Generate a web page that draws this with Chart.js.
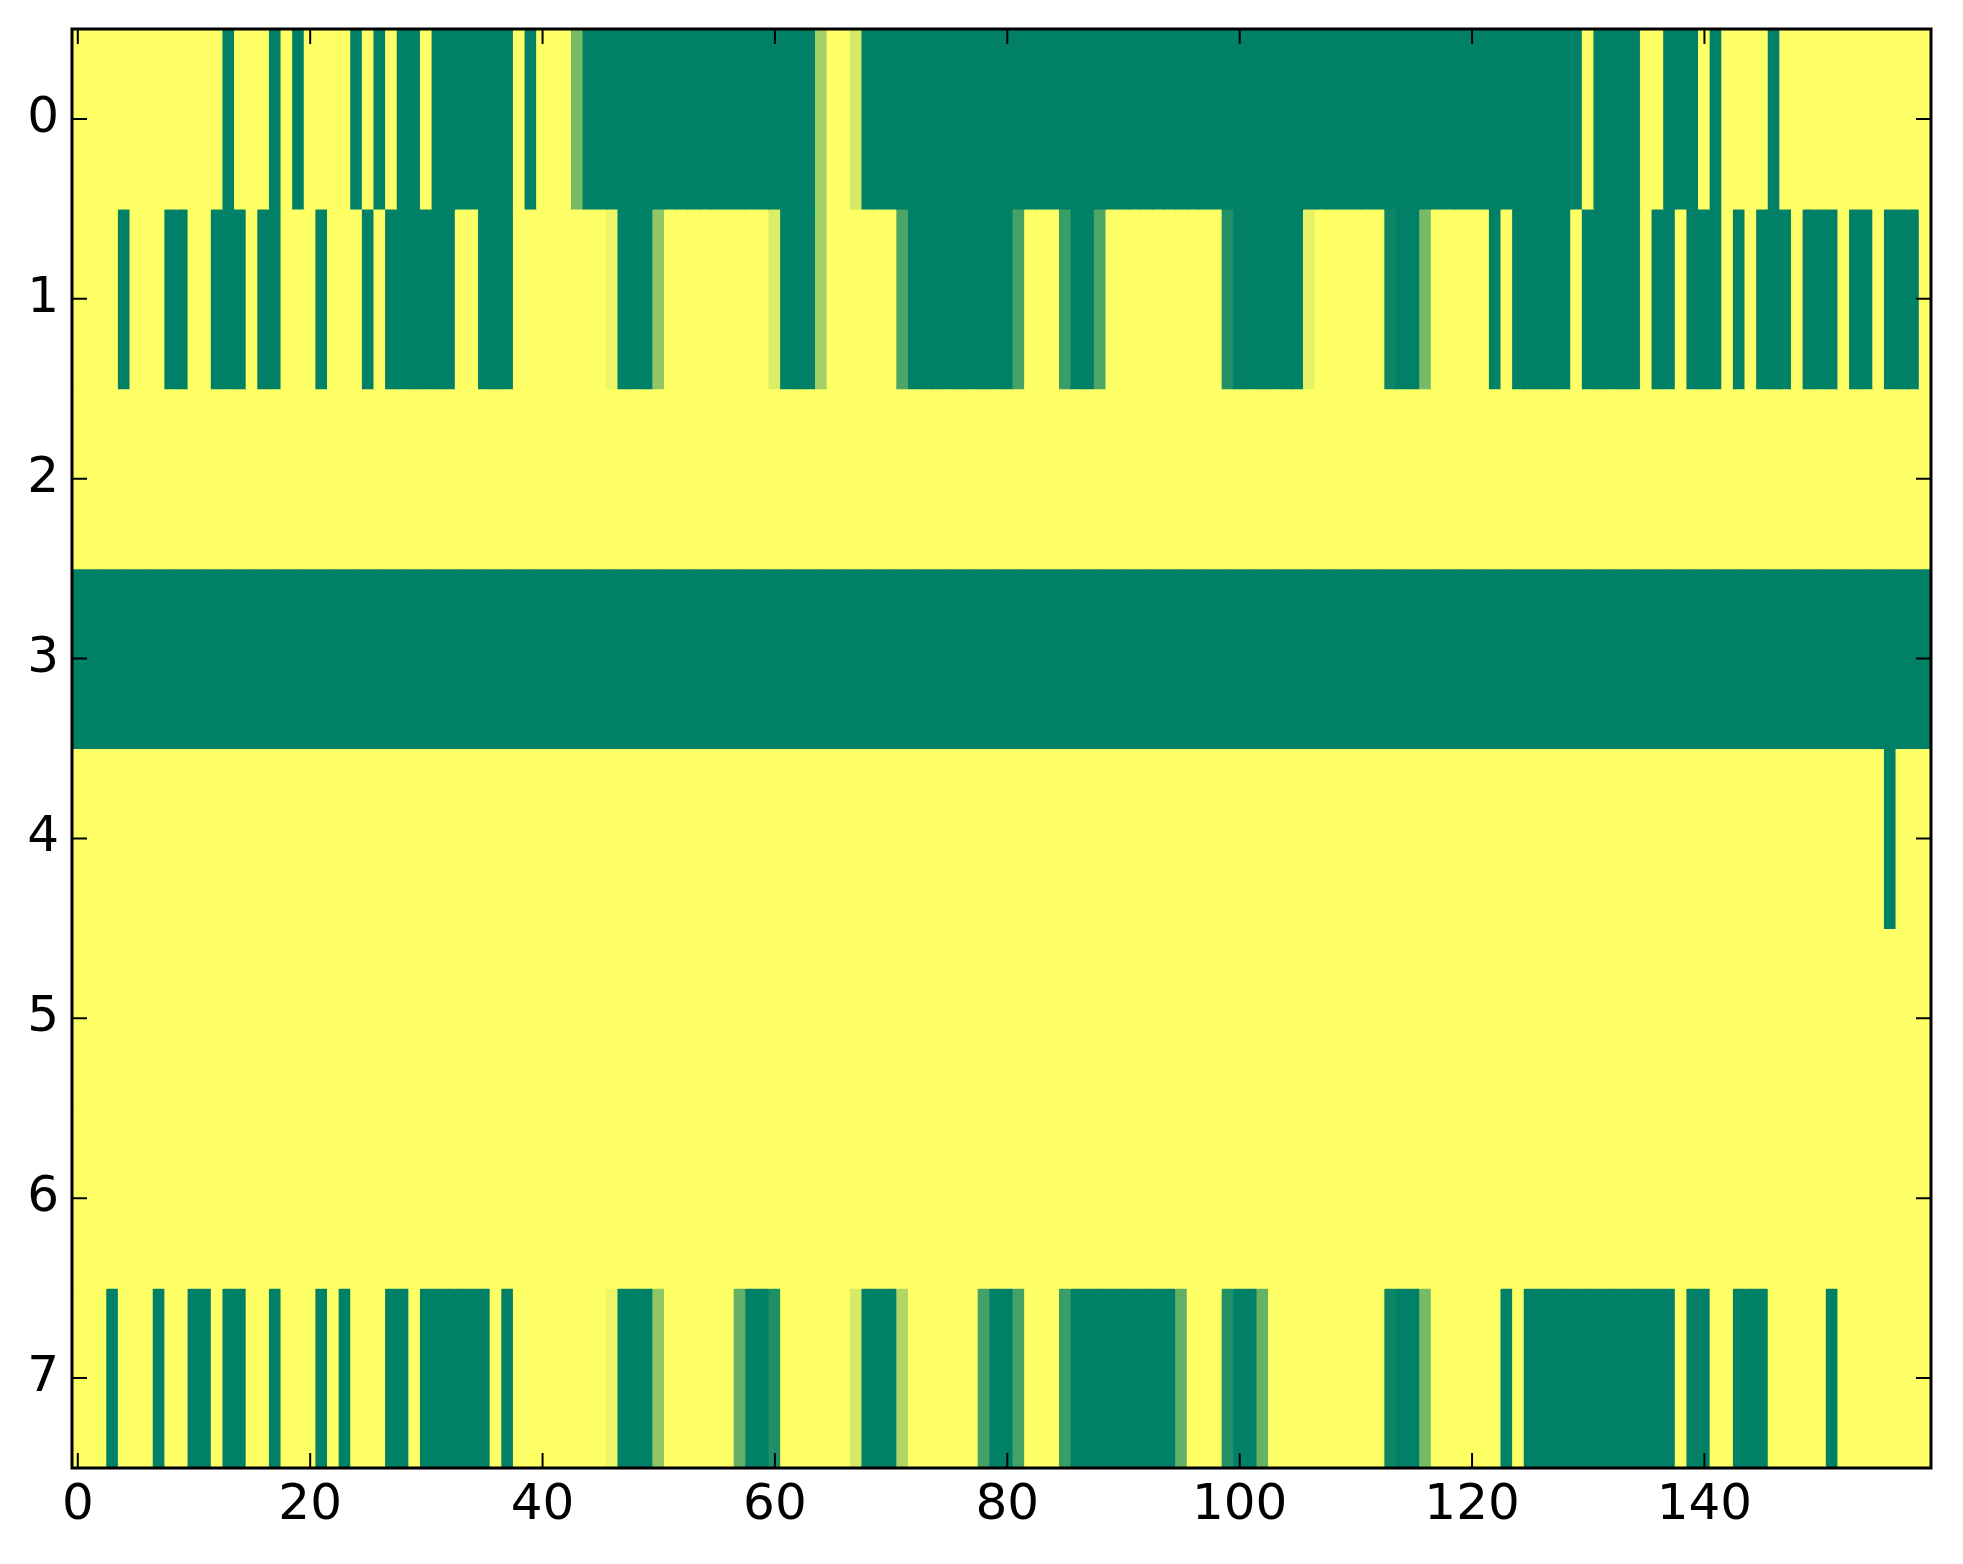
<!DOCTYPE html>
<html>
<head>
<meta charset="utf-8">
<script src="https://cdn.jsdelivr.net/npm/chart.js@4/dist/chart.umd.min.js"></script>
<style>
  body { margin: 0; background: #fff; }
  #myChart { display: block; }
</style>
</head>
<body>
<canvas id="myChart" width="1963" height="1564"></canvas>
<script>
// one array per image row, 160 cells each (0 = green end, 1 = yellow end of "summer")
let row0 = [
  1,1,1,1,1,1,1,1,1,1, 1,1,1,0,1,1,1,0,1,0,
  1,1,1,1,0,1,0,1,0,0, 1,0,0,0,0,0,0,0,1,0,
  1,1,1,0.47,0,0,0,0,0,0, 0,0,0,0,0,0,0,0,0,0,
  0,0,0,0,0.64,1,1,0.83,0,0, 0,0,0,0,0,0,0,0,0,0,
  0,0,0,0,0,0,0,0,0,0, 0,0,0,0,0,0,0,0,0,0,
  0,0,0,0,0,0,0,0,0,0, 0,0,0,0,0,0,0,0,0,0,
  0,0,0,0,0,0,0,0,0,0, 1,0,0,0,0,1,1,0,0,0,
  1,0,1,1,1,1,0,1,1,1, 1,1,1,1,1,1,1,1,1,1
];
let row1 = [
  1,1,1,1,0,1,1,1,0,0, 1,1,0,0,0,1,0,0,1,1,
  1,0,1,1,1,0,1,0,0,0, 0,0,0,1,1,0,0,0,1,1,
  1,1,1,1,1,1,0.93,0,0,0, 0.56,1,1,1,1,1,1,1,1,1,
  0.86,0,0,0,0.64,1,1,1,1,1, 1,0.3,0,0,0,0,0,0,0,0,
  0,0.27,1,1,1,0.23,0,0,0.3,1, 1,1,1,1,1,1,1,1,1,0.13,
  0,0,0,0,0,0,0.9,1,1,1, 1,1,1,0.05,0,0,0.47,1,1,1,
  1,1,0,1,0,0,0,0,0,1, 0,0,0,0,0,1,0,0,1,0,
  0,0,1,0,1,0,0,0,1,0, 0,0,1,0,0,1,0,0,0,1
];
let row2 = [
  1,1,1,1,1,1,1,1,1,1, 1,1,1,1,1,1,1,1,1,1,
  1,1,1,1,1,1,1,1,1,1, 1,1,1,1,1,1,1,1,1,1,
  1,1,1,1,1,1,1,1,1,1, 1,1,1,1,1,1,1,1,1,1,
  1,1,1,1,1,1,1,1,1,1, 1,1,1,1,1,1,1,1,1,1,
  1,1,1,1,1,1,1,1,1,1, 1,1,1,1,1,1,1,1,1,1,
  1,1,1,1,1,1,1,1,1,1, 1,1,1,1,1,1,1,1,1,1,
  1,1,1,1,1,1,1,1,1,1, 1,1,1,1,1,1,1,1,1,1,
  1,1,1,1,1,1,1,1,1,1, 1,1,1,1,1,1,1,1,1,1
];
let row3 = [
  0,0,0,0,0,0,0,0,0,0, 0,0,0,0,0,0,0,0,0,0,
  0,0,0,0,0,0,0,0,0,0, 0,0,0,0,0,0,0,0,0,0,
  0,0,0,0,0,0,0,0,0,0, 0,0,0,0,0,0,0,0,0,0,
  0,0,0,0,0,0,0,0,0,0, 0,0,0,0,0,0,0,0,0,0,
  0,0,0,0,0,0,0,0,0,0, 0,0,0,0,0,0,0,0,0,0,
  0,0,0,0,0,0,0,0,0,0, 0,0,0,0,0,0,0,0,0,0,
  0,0,0,0,0,0,0,0,0,0, 0,0,0,0,0,0,0,0,0,0,
  0,0,0,0,0,0,0,0,0,0, 0,0,0,0,0,0,0,0,0,0
];
let row4 = [
  1,1,1,1,1,1,1,1,1,1, 1,1,1,1,1,1,1,1,1,1,
  1,1,1,1,1,1,1,1,1,1, 1,1,1,1,1,1,1,1,1,1,
  1,1,1,1,1,1,1,1,1,1, 1,1,1,1,1,1,1,1,1,1,
  1,1,1,1,1,1,1,1,1,1, 1,1,1,1,1,1,1,1,1,1,
  1,1,1,1,1,1,1,1,1,1, 1,1,1,1,1,1,1,1,1,1,
  1,1,1,1,1,1,1,1,1,1, 1,1,1,1,1,1,1,1,1,1,
  1,1,1,1,1,1,1,1,1,1, 1,1,1,1,1,1,1,1,1,1,
  1,1,1,1,1,1,1,1,1,1, 1,1,1,1,1,1,0,1,1,1
];
let row5 = row2.slice();
let row6 = row2.slice();
let row7 = [
  1,1,1,0,1,1,1,0,1,1, 0,0,1,0,0,1,1,0,1,1,
  1,0,1,0,1,1,1,0,0,1, 0,0,0,0,0,0,1,0,1,1,
  1,1,1,1,1,1,0.93,0,0,0, 0.56,1,1,1,1,1,1,0.39,0,0,
  0.12,1,1,1,1,1,1,0.83,0,0, 0,0.69,1,1,1,1,1,1,0.26,0,
  0,0.27,1,1,1,0.23,0,0,0,0, 0,0,0,0,0,0.38,1,1,1,0.13,
  0,0,0.4,1,1,1,1,1,1,1, 1,1,1,0.05,0,0,0.47,1,1,1,
  1,1,1,0,1,0,0,0,0,0, 0,0,0,0,0,0,0,0,1,0,
  0,1,1,0,0,0,1,1,1,1, 1,0,1,1,1,1,1,1,1,1
];

const rows = [row0, row1, row2, row3, row4, row5, row6, row7];
const xTicks = [0, 20, 40, 60, 80, 100, 120, 140];
const yTicks = [0, 1, 2, 3, 4, 5, 6, 7];

// matplotlib "summer" colormap
const summer = v => {
  const r = Math.round(255 * v);
  const g = Math.round(127.5 + 127.5 * v);
  return 'rgb(' + r + ',' + g + ',102)';
};

const datasets = rows.map((vals, r) => ({
  data: vals.map((v, c) => ({ x: c, y: [r - 0.5, r + 0.5] })),
  backgroundColor: vals.map(summer),
  borderWidth: 0,
  inflateAmount: 0.6,
  grouped: false,
  barPercentage: 1,
  categoryPercentage: 1
}));

const FONT = { family: 'DejaVu Sans', size: 50 };

// matplotlib-like frame and inward ticks on all four sides
const frame = {
  id: 'frame',
  afterDraw(chart) {
    const { ctx, chartArea: a, scales } = chart;
    ctx.save();
    ctx.strokeStyle = '#000';
    ctx.lineWidth = 2;
    ctx.beginPath();
    xTicks.forEach(v => {
      const px = scales.x.getPixelForValue(v);
      ctx.moveTo(px, a.top); ctx.lineTo(px, a.top + 15);
      ctx.moveTo(px, a.bottom); ctx.lineTo(px, a.bottom - 15);
    });
    yTicks.forEach(v => {
      const py = scales.y.getPixelForValue(v);
      ctx.moveTo(a.left, py); ctx.lineTo(a.left + 15, py);
      ctx.moveTo(a.right, py); ctx.lineTo(a.right - 15, py);
    });
    ctx.stroke();
    ctx.lineWidth = 3;
    ctx.strokeRect(a.left, a.top, a.right - a.left, a.bottom - a.top);
    ctx.restore();
  }
};

const config = {
  type: 'bar',
  data: { datasets: datasets },
  options: {
    responsive: false,
    animation: false,
    layout: { padding: { top: 29, right: 32, left: 0, bottom: 0 } },
    plugins: { legend: { display: false }, tooltip: { enabled: false } },
    scales: {
      x: {
        type: 'linear',
        offset: false,
        min: -0.5,
        max: 159.5,
        grid: { display: false },
        border: { display: false },
        afterBuildTicks: axis => { axis.ticks = xTicks.map(v => ({ value: v })); },
        afterFit: axis => { axis.height = 96; axis.paddingLeft = 0; axis.paddingRight = 0; },
        ticks: { color: '#000', font: FONT, padding: 0, maxRotation: 0, autoSkip: false }
      },
      y: {
        type: 'linear',
        reverse: true,
        min: -0.5,
        max: 7.5,
        grid: { display: false },
        border: { display: false },
        afterBuildTicks: axis => { axis.ticks = yTicks.map(v => ({ value: v })); },
        afterFit: axis => { axis.width = 72; axis.paddingTop = 0; axis.paddingBottom = 0; },
        ticks: { color: '#000', font: FONT, padding: 5, autoSkip: false }
      }
    }
  },
  plugins: [frame]
};

new Chart(document.getElementById('myChart'), config);
</script>
</body>
</html>
